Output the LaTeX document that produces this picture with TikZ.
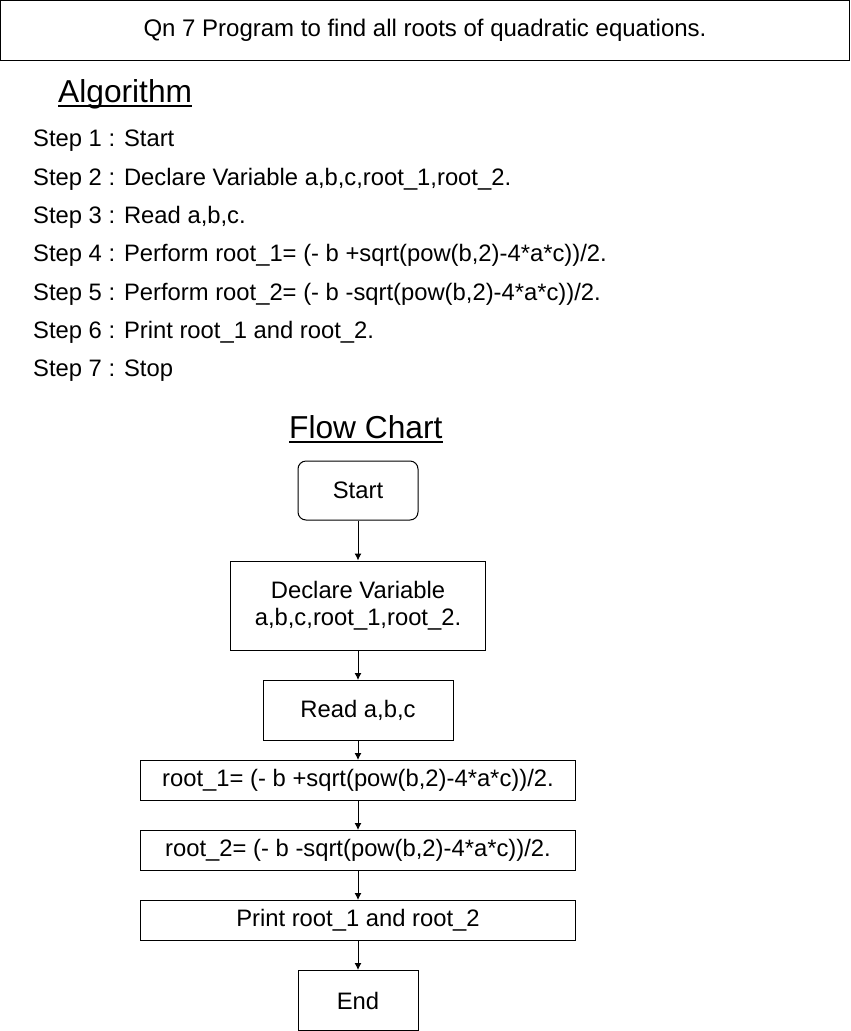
\documentclass[tikz,border=0pt]{standalone}
\usepackage{fontspec}
\setmainfont{Liberation Sans}
\usetikzlibrary{arrows.meta}
\newcommand{\fsbody}{\fontsize{23.8}{27}\selectfont}
\newcommand{\fstitle}{\fontsize{24}{28}\selectfont}
\newcommand{\fshead}{\fontsize{31.7}{36}\selectfont}
\begin{document}
\begin{tikzpicture}[x=1pt,y=-1pt,
  box/.style={draw, line width=1pt, inner sep=0pt, align=center, font=\fsbody},
  steptext/.style={anchor=base west, inner sep=0pt, font=\fsbody},
  headtext/.style={anchor=base west, inner sep=0pt, font=\fshead},
  arr/.style={-{Latex[length=7pt,width=7pt]}, line width=1pt}]
\useasboundingbox (0,0) rectangle (851,1031);
% title
\node[box, font=\fstitle, minimum width=849pt, minimum height=60pt] (title) at (425,30.5)
  {Qn 7 Program to find all roots of quadratic equations.};
% algorithm
\node[headtext] (alg) at (58,102) {Algorithm};
\draw[line width=2pt] ([yshift=-4pt]alg.base west) -- ([yshift=-4pt]alg.base east);
\node[steptext] (s1) at (33,146) {Step 1 : Start};
\node[steptext] (s2) at (33,185) {Step 2 : Declare Variable a,b,c,root\_1,root\_2.};
\node[steptext] (s3) at (33,223) {Step 3 : Read a,b,c.};
\node[steptext] (s4) at (33,261) {Step 4 : Perform root\_1= (- b +sqrt(pow(b,2)-4*a*c))/2.};
\node[steptext] (s5) at (33,300) {Step 5 : Perform root\_2= (- b -sqrt(pow(b,2)-4*a*c))/2.};
\node[steptext] (s6) at (33,338) {Step 6 : Print root\_1 and root\_2.};
\node[steptext] (s7) at (33,376) {Step 7 : Stop};
% flow chart heading
\node[headtext] (fc) at (289,438) {Flow Chart};
\draw[line width=2pt] ([yshift=-4pt]fc.base west) -- ([yshift=-4pt]fc.base east);
% flow chart
\node[box, rounded corners=8pt, minimum width=120pt, minimum height=59pt] (start) at (358,490.5) {Start};
\node[box, minimum width=255pt, minimum height=89pt] (decl) at (358,605.5) {Declare Variable\\a,b,c,root\_1,root\_2.};
\node[box, minimum width=190pt, minimum height=60pt] (read) at (358,710.5) {Read a,b,c};
\node[box, minimum width=435pt, minimum height=40pt] (r1) at (358,780.5) {root\_1= (- b +sqrt(pow(b,2)-4*a*c))/2.};
\node[box, minimum width=435pt, minimum height=40pt] (r2) at (358,850.5) {root\_2= (- b -sqrt(pow(b,2)-4*a*c))/2.};
\node[box, minimum width=435pt, minimum height=40pt] (pr) at (358,920.5) {Print root\_1 and root\_2};
\node[box, minimum width=120pt, minimum height=60pt] (end) at (358,1000.5) {End};
\draw[arr] (start) -- (decl);
\draw[arr] (decl) -- (read);
\draw[arr] (read) -- (r1);
\draw[arr] (r1) -- (r2);
\draw[arr] (r2) -- (pr);
\draw[arr] (pr) -- (end);
\end{tikzpicture}
\end{document}
